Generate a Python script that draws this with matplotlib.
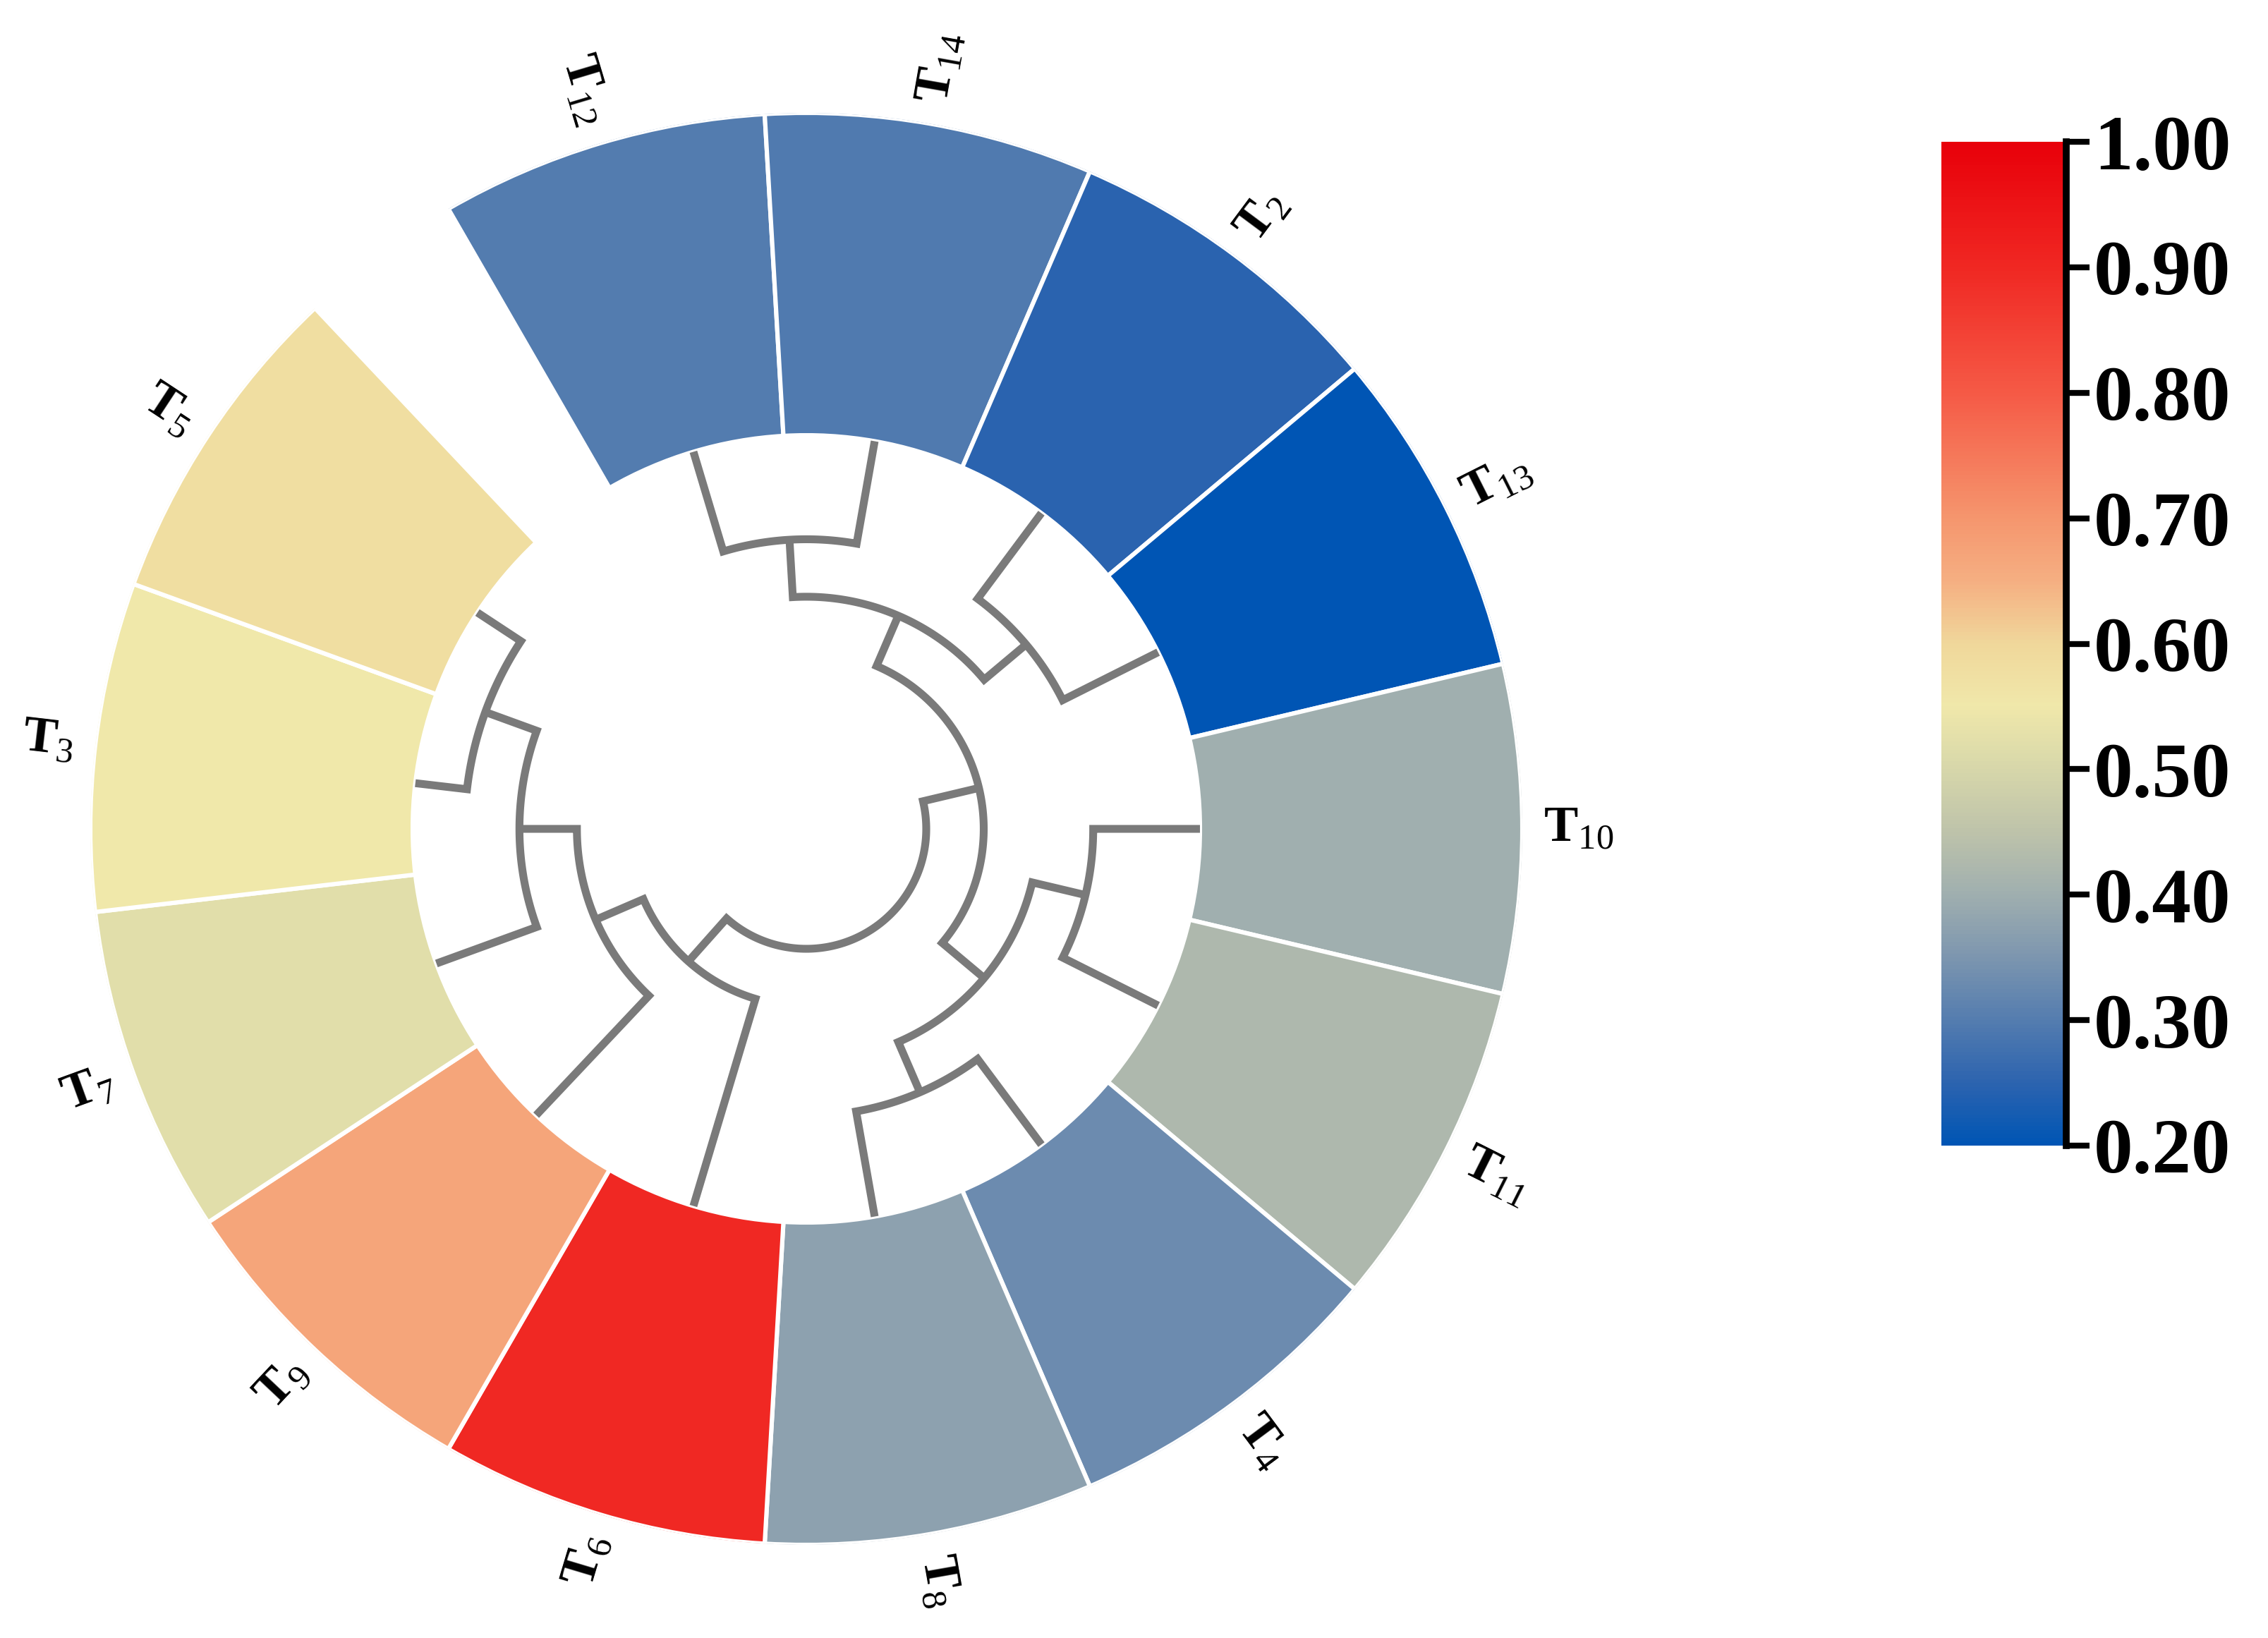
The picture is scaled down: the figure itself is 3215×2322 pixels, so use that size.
import numpy as np
import matplotlib
matplotlib.use('Agg')
import matplotlib.pyplot as plt
from matplotlib.colors import LinearSegmentedColormap, Normalize
from matplotlib.cm import ScalarMappable

plt.rcParams['font.family'] = ['Liberation Serif', 'DejaVu Serif']
plt.rcParams['mathtext.fontset'] = 'custom'
plt.rcParams['mathtext.rm'] = 'Liberation Serif'
plt.rcParams['mathtext.bf'] = 'Liberation Serif:bold'

# leaves in clockwise order, starting after the gap
leaves = ['T12', 'T14', 'T2', 'T13', 'T10', 'T11', 'T4', 'T8', 'T6', 'T9', 'T7', 'T3', 'T5']
values = [0.30, 0.295, 0.25, 0.20, 0.40, 0.425, 0.33, 0.375, 0.90, 0.67, 0.52, 0.55, 0.58]

# dendrogram merges: (child a, child b, height) -> new cluster c1, c2, ...
merges = [
    ('T3', 'T5', 0.19),    # c1
    ('T12', 'T14', 0.38),  # c2
    ('T2', 'T13', 0.39),   # c3
    ('T10', 'T11', 0.39),  # c4
    ('T4', 'T8', 0.39),    # c5
    ('T7', 'c1', 0.39),    # c6
    ('c2', 'c3', 0.59),    # c7
    ('c4', 'c5', 0.59),    # c8
    ('T9', 'c6', 0.60),    # c9
    ('c7', 'c8', 0.79),    # c10
    ('T6', 'c9', 0.79),    # c11
    ('c10', 'c11', 1.00),  # c12 (root)
]

# colour scale
cbar_ticks = [0.20, 0.30, 0.40, 0.50, 0.60, 0.70, 0.80, 0.90, 1.00]
cmap_pos = [0.0, 0.0625, 0.125, 0.1875, 0.25, 0.3125, 0.375, 0.4375, 0.5, 0.5625, 0.625, 0.75, 0.875, 1.0]
cmap_cols = ['#0055b4', '#2d64af', '#557daf', '#7d96af', '#a0afaf', '#bec3aa', '#d7d7aa',
             '#f0e8aa', '#f0d79b', '#f5af82', '#f5966e', '#f55a46', '#f02823', '#e8000a']
cmap = LinearSegmentedColormap.from_list('rb', list(zip(cmap_pos, cmap_cols)))
norm = Normalize(vmin=0.2, vmax=1.0)

# geometry (pixels)
W, H = 3216, 2322
CX, CY = 1143, 1175
R_OUT, R_IN, R_ROOT, R_LAB = 1015, 558, 170, 1045
slot = 360 / 13.5
start = 4 * slot

fig = plt.figure(figsize=(W / 200, H / 200), dpi=200)
ax = fig.add_axes([(CX - R_OUT) / W, (H - CY - R_OUT) / H, 2 * R_OUT / W, 2 * R_OUT / H],
                  projection='polar')
ax.set_ylim(0, R_OUT)
ax.set_axis_off()

thetas = [start - i * slot for i in range(len(leaves))]

# heatmap ring
ax.bar(np.deg2rad(thetas), R_OUT - R_IN, width=np.deg2rad(slot), bottom=R_IN,
       color=[cmap(norm(v)) for v in values], edgecolor='white', linewidth=2.2)

# dendrogram
pos = dict(zip(leaves, thetas))
rad = {n: R_IN for n in leaves}
for k, (a, b, h) in enumerate(merges, 1):
    r = R_IN - h * (R_IN - R_ROOT)
    ta, tb = pos[a], pos[b]
    arc = np.linspace(ta, tb, 120)
    th = np.concatenate([[ta, ta], arc, [tb, tb]])
    rr = np.concatenate([[rad[a], r], np.full(arc.size, r), [r, rad[b]]])
    ax.plot(np.deg2rad(th), rr, color='#7a7a7a', lw=4.0,
            solid_joinstyle='miter', solid_capstyle='butt')
    pos['c%d' % k] = (ta + tb) / 2
    rad['c%d' % k] = r

# labels
for name, th in zip(leaves, thetas):
    t = (th + 180) % 360 - 180
    if np.cos(np.deg2rad(t)) >= 0:
        rot, ha = t, 'left'
    else:
        rot, ha = t + 180 if t < 0 else t - 180, 'right'
    ax.text(np.deg2rad(th), R_LAB, r'$\mathbf{T}_{\mathrm{%s}}$' % name[1:],
            rotation=rot, rotation_mode='anchor', ha=ha, va='center', fontsize=26)

# colour bar
cax = fig.add_axes([2752 / W, (H - 1624) / H, 177 / W, 1423 / H])
cb = fig.colorbar(ScalarMappable(norm=norm, cmap=cmap), cax=cax, ticks=cbar_ticks)
cb.outline.set_visible(False)
cax.plot([1, 1], [0, 1], transform=cax.transAxes, color='black', lw=3.5,
         clip_on=False, solid_capstyle='projecting')
cax.tick_params(length=12, width=3, pad=2, labelsize=40)
cax.set_yticklabels(['%.2f' % t for t in cbar_ticks], fontweight='bold')

fig.savefig('out.png', dpi=200, facecolor='white')
